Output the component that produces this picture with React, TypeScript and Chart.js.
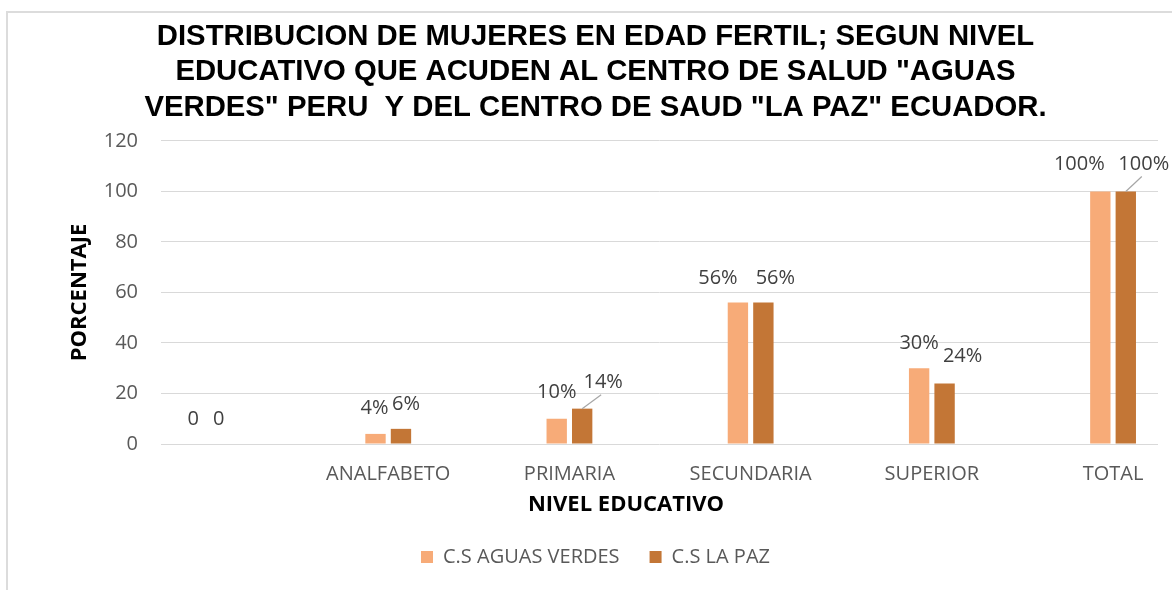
import React, { useEffect, useRef } from "react";
import { Chart, registerables } from "chart.js";

Chart.register(...registerables);

// ---------- data ----------
const categories = ["", "ANALFABETO", "PRIMARIA", "SECUNDARIA", "SUPERIOR", "TOTAL"];
const seriesNames = ["C.S AGUAS VERDES", "C.S LA PAZ"];
const aguasVerdes = [0, 4, 10, 56, 30, 100];
const laPaz = [0, 6, 14, 56, 24, 100];
const yTickMin = 0;
const yTickMax = 120;
const yTickStep = 20;

const titleLines = [
  "DISTRIBUCION DE MUJERES EN EDAD FERTIL; SEGUN NIVEL",
  "EDUCATIVO QUE ACUDEN AL CENTRO DE SALUD \"AGUAS",
  "VERDES\" PERU  Y DEL CENTRO DE SAUD \"LA PAZ\" ECUADOR.",
];
const yAxisTitle = "PORCENTAJE";
const xAxisTitle = "NIVEL EDUCATIVO";

// ---------- styles ----------
const barColors = ["#F7AB78", "#C37636"];
const gridColor = "#D9D9D9";
const tickColor = "#595959";
const labelColor = "#404040";
const FONT = "'Open Sans', 'Noto Sans', sans-serif";

// data-label nudges (px) relative to the spot above each bar
const labelNudges = [
  { dx: [-1, -1, 0, -20, 0, -21], dy: [-25, -26, -26, -24, -25, -27], leader: [false, false, false, false, false, false] },
  { dx: [-1, 5, 21, 12, 18, 18], dy: [-25, -25, -26, -24, -27, -27], leader: [false, false, true, false, false, true] },
];

const fmtLabel = (v: number) => (v === 0 ? "0" : `${v}%`);

const dataLabelPlugin = {
  id: "dataLabels",
  afterDatasetsDraw(chart: any) {
    const ctx = chart.ctx;
    ctx.save();
    ctx.font = `20px ${FONT}`;
    ctx.textAlign = "center";
    ctx.textBaseline = "middle";
    chart.data.datasets.forEach((ds: any, di: number) => {
      const meta = chart.getDatasetMeta(di);
      const nud = labelNudges[di];
      meta.data.forEach((bar: any, i: number) => {
        const v = ds.data[i].y;
        const lx = bar.x + nud.dx[i];
        const ly = bar.y + nud.dy[i];
        if (nud.leader[i]) {
          ctx.strokeStyle = "#A6A6A6";
          ctx.lineWidth = 1.2;
          ctx.beginPath();
          ctx.moveTo(bar.x, bar.y);
          ctx.lineTo(lx - 2, ly + 12);
          ctx.stroke();
        }
        ctx.fillStyle = labelColor;
        ctx.fillText(fmtLabel(v), lx, ly);
      });
    });
    ctx.restore();
  },
};

const xTitlePlugin = {
  id: "xTitle",
  afterDraw(chart: any) {
    const ctx = chart.ctx;
    const xs = chart.scales.x;
    ctx.save();
    ctx.font = `bold 22px ${FONT}`;
    ctx.fillStyle = "#000000";
    ctx.textAlign = "center";
    ctx.textBaseline = "middle";
    ctx.fillText(xAxisTitle, chart.width / 2 + 40, xs.top + 61);
    ctx.restore();
  },
};

export default function App() {
  const canvasRef = useRef<HTMLCanvasElement | null>(null);

  useEffect(() => {
    if (!canvasRef.current) return;
    const chart = new Chart(canvasRef.current, {
      type: "bar",
      data: {
        datasets: [
          {
            label: seriesNames[0],
            data: aguasVerdes.map((v, i) => ({ x: i, y: v })),
            backgroundColor: barColors[0],
            borderWidth: 0,
          },
          {
            label: seriesNames[1],
            data: laPaz.map((v, i) => ({ x: i, y: v })),
            backgroundColor: barColors[1],
            borderWidth: 0,
          },
        ],
      },
      options: {
        animation: false,
        responsive: true,
        maintainAspectRatio: false,
        categoryPercentage: 0.281,
        barPercentage: 0.8,
        layout: { padding: { left: 33, right: 14, top: 0, bottom: 13 } },
        plugins: {
          tooltip: { enabled: false },
          title: {
            display: true,
            text: titleLines,
            color: "#000000",
            font: { family: "'Liberation Sans', Arial, sans-serif", weight: "bold", size: 29.3, lineHeight: 1.212 },
            padding: { top: 19, bottom: 15.4 },
          },
          legend: {
            position: "bottom",
            labels: {
              color: tickColor,
              font: { family: FONT, size: 20 },
              boxWidth: 12,
              boxHeight: 12,
              padding: 30,
            },
          },
        },
        scales: {
          x: {
            type: "linear",
            min: -0.254,
            max: 5.248,
            offset: false,
            grid: { display: false, offset: false, drawTicks: false },
            border: { display: false },
            ticks: {
              stepSize: 1,
              includeBounds: false,
              autoSkip: false,
              maxRotation: 0,
              padding: 18,
              color: tickColor,
              font: { family: FONT, size: 20 },
              callback: (value: any) =>
                Number.isInteger(value) && categories[value] !== undefined ? categories[value] : "",
            },
            afterFit: (scale: any) => {
              scale.height = 73;
            },
          },
          y: {
            min: yTickMin,
            max: yTickMax,
            grid: { color: gridColor, lineWidth: 1, drawTicks: false },
            border: { display: false },
            ticks: {
              stepSize: yTickStep,
              padding: 23,
              color: tickColor,
              font: { family: FONT, size: 20 },
            },
            title: {
              display: true,
              text: yAxisTitle,
              color: "#000000",
              font: { family: FONT, size: 22, weight: "bold" },
              padding: { top: 34, bottom: 0 },
            },
            afterFit: (scale: any) => {
              scale.width = 128;
            },
          },
        },
      },
      plugins: [dataLabelPlugin, xTitlePlugin],
    } as any);
    return () => chart.destroy();
  }, []);

  return (
    <div style={{ position: "fixed", left: 0, top: 0, width: 1172, height: 590, background: "#fff", overflow: "hidden" }}>
      <div
        style={{
          position: "absolute",
          left: 6,
          top: 11,
          width: 1200,
          height: 620,
          borderLeft: "2px solid #DCDCDC",
          borderTop: "2px solid #DCDCDC",
        }}
      />
      <div style={{ position: "absolute", left: 0, top: 0, width: 1172, height: 590 }}>
        <canvas ref={canvasRef} />
      </div>
    </div>
  );
}
